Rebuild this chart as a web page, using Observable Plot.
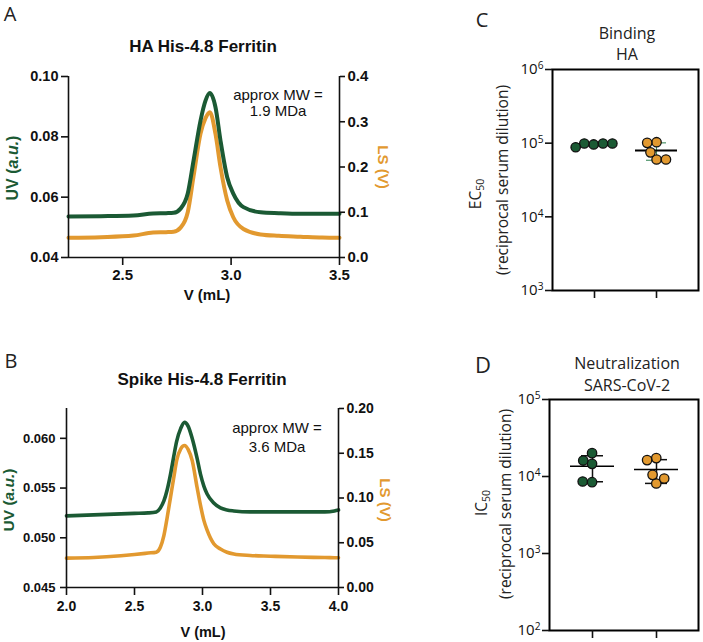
<!DOCTYPE html>
<html><head><meta charset="utf-8">
<script src="https://cdn.jsdelivr.net/npm/d3@7"></script>
<script src="https://cdn.jsdelivr.net/npm/@observablehq/plot@0.6"></script>
<style>
body{margin:0;background:#fff;}
#fig{position:relative;width:703px;height:642px;overflow:hidden;background:#fff;font-family:"Liberation Sans",Arial,sans-serif;color:#111;}
.abs{position:absolute;}
.lbl{position:absolute;white-space:nowrap;line-height:1.15;}
.os{font-family:"Open Sans","Noto Sans",sans-serif;font-weight:normal;color:#222;}
</style></head><body><div id="fig"></div>
<script>
// ---------- data ----------
const green = "#1b5a34", orange = "#e2992f";
const groups = ["Group 1", "Group 2"];

// Panel A: HA His-4.8 Ferritin (UV left axis, LS right axis)
const vA  = [2.25, 2.40, 2.55, 2.64, 2.70, 2.735, 2.767, 2.80, 2.827, 2.859, 2.882, 2.902, 2.928, 2.951, 2.982, 3.01, 3.057, 3.136, 3.22, 3.32, 3.42, 3.5];
const uvA = [0.0536, 0.0537, 0.0539, 0.0546, 0.0547, 0.0548, 0.0562, 0.0612, 0.0722, 0.0854, 0.0920, 0.0945, 0.0898, 0.0788, 0.0666, 0.0612, 0.0567, 0.0550, 0.0547, 0.0545, 0.0545, 0.0545];
const lsA = [0.0435, 0.045, 0.0486, 0.055, 0.056, 0.057, 0.066, 0.100, 0.180, 0.274, 0.308, 0.321, 0.273, 0.200, 0.126, 0.089, 0.063, 0.051, 0.048, 0.046, 0.044, 0.0435];
const xTicksA = [2.5, 3.0, 3.5];
const uvTicksA = [0.04, 0.06, 0.08, 0.10];
const lsTicksA = [0.0, 0.1, 0.2, 0.3, 0.4];

// Panel B: Spike His-4.8 Ferritin
const vB  = [2.0, 2.2, 2.4, 2.5, 2.6, 2.66, 2.69, 2.716, 2.74, 2.765, 2.79, 2.81, 2.84, 2.868, 2.895, 2.924, 2.96, 2.985, 3.01, 3.034, 3.083, 3.132, 3.18, 3.23, 3.35, 3.5, 3.7, 3.9, 3.97, 4.0];
const uvB = [0.0522, 0.0523, 0.0524, 0.05245, 0.0525, 0.0526, 0.0530, 0.0537, 0.0548, 0.0564, 0.0583, 0.0597, 0.0610, 0.0616, 0.0612, 0.0600, 0.0580, 0.0564, 0.0552, 0.0544, 0.0535, 0.0530, 0.0528, 0.0527, 0.0526, 0.0526, 0.0526, 0.0526, 0.0527, 0.0528];
const lsB = [0.0328, 0.0335, 0.0355, 0.0369, 0.0385, 0.0395, 0.045, 0.058, 0.078, 0.101, 0.124, 0.142, 0.155, 0.1587, 0.154, 0.142, 0.112, 0.092, 0.075, 0.064, 0.0488, 0.043, 0.0394, 0.0375, 0.0358, 0.035, 0.034, 0.0335, 0.0333, 0.0332];
const xTicksB = [2.0, 2.5, 3.0, 3.5, 4.0];
const uvTicksB = [0.045, 0.050, 0.055, 0.060];
const lsTicksB = [0.00, 0.05, 0.10, 0.15, 0.20];

// Panel C: Binding HA, EC50
const ec50Green  = [96000, 99000, 99000, 99000, 88000];
const ec50Orange = [60000, 103000, 75000, 101000, 60000];
const ticksC = [1e3, 1e4, 1e5, 1e6];

// Panel D: Neutralization SARS-CoV-2, IC50
const ic50Green  = [20100, 14600, 16100, 8440, 8610];
const ic50Orange = [8110, 17340, 10500, 16330, 9420];
const ticksD = [1e2, 1e3, 1e4, 1e5];

// ---------- helpers ----------
const fig = document.getElementById("fig");
function place(node, left, top) {
  const d = document.createElement("div");
  d.className = "abs"; d.style.left = left + "px"; d.style.top = top + "px";
  d.appendChild(node); fig.appendChild(d);
}
function label(html, x, y, style = {}, rot = 0, cls = "") {
  const d = document.createElement("div");
  d.className = "lbl " + cls; d.innerHTML = html;
  d.style.left = x + "px"; d.style.top = y + "px";
  Object.assign(d.style, style);
  d.style.transform = "translate(-50%,-50%)" + (rot ? ` rotate(${rot}deg)` : "");
  fig.appendChild(d);
}

function chromPanel(o) {
  const {V, uv, ls, xDom, uvDom, lsDom} = o;
  const toUV = d => uvDom[0] + (d - lsDom[0]) / (lsDom[1] - lsDom[0]) * (uvDom[1] - uvDom[0]);
  const fromUV = d => lsDom[0] + (d - uvDom[0]) / (uvDom[1] - uvDom[0]) * (lsDom[1] - lsDom[0]);
  const uvData = V.map((v, i) => ({v, y: uv[i]}));
  const lsData = V.map((v, i) => ({v, y: toUV(ls[i])}));
  const ax = {stroke: "#111", strokeWidth: 1.6};
  return Plot.plot({
    width: o.width, height: o.height,
    marginLeft: o.mL, marginRight: o.mR, marginTop: o.mT, marginBottom: o.mB,
    x: {domain: xDom}, y: {domain: uvDom},
    style: {fontFamily: "'Liberation Sans', Arial, sans-serif", fontSize: o.fs + "px", fontWeight: "bold", color: "#111", background: "transparent"},
    marks: [
      Plot.line(lsData, {x: "v", y: "y", stroke: orange, strokeWidth: o.lw, curve: "monotone-x"}),
      Plot.line(uvData, {x: "v", y: "y", stroke: green, strokeWidth: o.lw, curve: "monotone-x"}),
      Plot.ruleX(xDom, ax),
      Plot.ruleY([uvDom[0]], ax),
      Plot.axisX(o.xTicks, {tickFormat: d => d.toFixed(1), tickSize: o.xts, tickPadding: o.xtp, label: null, strokeWidth: 1.6, fontSize: o.xfs}),
      Plot.axisY(o.uvTicks, {tickFormat: d => d.toFixed(o.uvDig), tickSize: o.lts, tickPadding: o.ltp, label: null, strokeWidth: 1.6, fontSize: o.lfs}),
      Plot.axisY(o.lsTicks.map(toUV), {anchor: "right", tickFormat: d => fromUV(d).toFixed(o.lsDig), tickSize: o.rts, tickPadding: o.rtp, label: null, strokeWidth: 1.6, fontSize: o.rfs})
    ]
  });
}

function scatterPanel(o) {
  const xOpts = {type: "band", domain: groups, range: [o.mL, o.width - o.mR], padding: 0.32};
  const xs = Plot.scale({x: xOpts});
  const mid = (o.mL + o.width - o.mR) / 2;
  // Plot's materialized band scale returns the band centre from apply()
  const dxOf = g => xs.apply(g) - mid;
  const stats = [[groups[0], o.g], [groups[1], o.o]].map(([g, v]) => {
    const m = d3.mean(v), s = d3.deviation(v);
    return {g, mean: m, lo: m - s, hi: m + s};
  });
  const gData = o.g.map(v => ({g: groups[0], v}));
  const oData = o.o.map(v => ({g: groups[1], v}));
  const bar = {stroke: o.barColor, strokeWidth: o.barW};
  const dotStyle = {y: "v", r: 4.7, stroke: "#111", strokeWidth: 1.3};
  const svg = Plot.plot({
    width: o.width, height: o.height,
    marginLeft: o.mL, marginRight: o.mR, marginTop: o.mT, marginBottom: o.mB,
    x: xOpts, y: {type: "log", domain: o.yDom},
    style: {fontFamily: "'Open Sans', 'Noto Sans', sans-serif", fontSize: "15px", color: "#111", background: "transparent"},
    marks: [
      Plot.ruleX(stats, {x: "g", y1: "lo", y2: "hi", ...bar}),
      Plot.tickY(stats, {x: "g", y: "lo", insetLeft: 11, insetRight: 11, ...bar}),
      Plot.tickY(stats, {x: "g", y: "hi", insetLeft: 11, insetRight: 11, ...bar}),
      Plot.tickY(stats, {x: "g", y: "mean", stroke: "#000", strokeWidth: o.meanW}),
      Plot.dot(gData, Plot.dodgeX({anchor: "middle", padding: 0}, {...dotStyle, fill: green, dx: dxOf(groups[0])})),
      Plot.dot(oData, Plot.dodgeX({anchor: "middle", padding: 0}, {...dotStyle, fill: orange, dx: dxOf(groups[1])})),
      Plot.frame({stroke: "#000", strokeWidth: 2}),
      Plot.axisY(o.ticks, {tickFormat: d => "10^" + Math.round(Math.log10(d)), tickSize: 7, tickPadding: 2, label: null, strokeWidth: 1.6}),
      Plot.axisX({tickSize: 8, tickFormat: () => "", label: null, strokeWidth: 1.6})
    ]
  });
  d3.select(svg).selectAll("text").each(function () {
    const m = /^10\^(\d)$/.exec(this.textContent);
    if (m) {
      const s = d3.select(this);
      s.text("10");
      s.append("tspan").attr("dy", "-0.5em").attr("font-size", "0.68em").text(m[1]);
    }
  });
  return svg;
}

// ---------- panels ----------
place(chromPanel({V: vA, uv: uvA, ls: lsA, xDom: [2.25, 3.5], uvDom: [0.04, 0.10], lsDom: [0, 0.4],
  xTicks: xTicksA, uvTicks: uvTicksA, lsTicks: lsTicksA, uvDig: 2, lsDig: 1,
  width: 400, height: 300, mL: 68, mR: 61, mT: 76, mB: 43, fs: 15, lw: 4,
  xts: 8, xtp: 4, xfs: 15, lts: 7, ltp: 3, lfs: 14.5, rts: 5, rtp: 3, rfs: 15}), 0, 0);

place(chromPanel({V: vB, uv: uvB, ls: lsB, xDom: [2.0, 4.0], uvDom: [0.045, 0.063], lsDom: [0, 0.2],
  xTicks: xTicksB, uvTicks: uvTicksB, lsTicks: lsTicksB, uvDig: 3, lsDig: 2,
  width: 400, height: 300, mL: 66, mR: 62, mT: 78, mB: 43, fs: 13.5, lw: 3.6,
  xts: 8, xtp: 6, xfs: 14, lts: 6, ltp: 5, lfs: 13, rts: 5, rtp: 3, rfs: 14}), 0, 330);

place(scatterPanel({g: ec50Green, o: ec50Orange, yDom: [1e3, 1e6], ticks: ticksC,
  width: 273, height: 320, mL: 122, mR: 5, mT: 69, mB: 30, barColor: "#3f8a5c", barW: 1.1, meanW: 2}), 430, 0);

place(scatterPanel({g: ic50Green, o: ic50Orange, yDom: [1e2, 1e5], ticks: ticksD,
  width: 273, height: 312, mL: 119, mR: 5, mT: 69, mB: 12, barColor: "#111", barW: 1.5, meanW: 1.6}), 430, 330);

// ---------- text ----------
const bold = {fontWeight: "bold"};
label("A", 10, 13, {fontSize: "20px"}, 0, "os");
label("B", 11, 360, {fontSize: "20px"}, 0, "os");
label("C", 482, 19, {fontSize: "20px"}, 0, "os");
label("D", 483, 365, {fontSize: "22px"}, 0, "os");

label("HA His-4.8 Ferritin", 203, 47, {...bold, fontSize: "17px"});
label("Spike His-4.8 Ferritin", 202, 380, {...bold, fontSize: "17px"});

label("UV (<i>a.u.</i>)", 13, 168, {...bold, fontSize: "16px", color: green}, -90);
label("LS (V)", 383, 167, {...bold, fontSize: "15px", color: orange}, 90);
label("UV (<i>a.u.</i>)", 9, 500, {...bold, fontSize: "15.5px", color: green}, -90);
label("LS (V)", 385, 500, {...bold, fontSize: "15px", color: orange}, 90);

label("V (mL)", 207, 295, {...bold, fontSize: "15px"});
label("V (mL)", 203, 632, {...bold, fontSize: "14.5px"});

label("approx MW =", 278, 95, {fontSize: "15px"});
label("1.9 MDa", 278, 111, {fontSize: "15px"});
label("approx MW =", 277, 428, {fontSize: "15px"});
label("3.6 MDa", 277, 447, {fontSize: "15px"});

label("Binding", 627, 33, {fontSize: "16px"}, 0, "os");
label("HA", 627, 54, {fontSize: "16px"}, 0, "os");
label("Neutralization", 627, 363, {fontSize: "16px"}, 0, "os");
label("SARS-CoV-2", 627, 385, {fontSize: "16px"}, 0, "os");

const sub = s => `<span style="font-size:0.68em;position:relative;top:0.25em">${s}</span>`;
label("EC" + sub("50"), 476, 194, {fontSize: "15.5px"}, -90, "os");
label("(reciprocal serum dilution)", 503, 180, {fontSize: "15.5px"}, -90, "os");
label("IC" + sub("50"), 482, 503, {fontSize: "15.5px"}, -90, "os");
label("(reciprocal serum dilution)", 506, 504, {fontSize: "15.5px"}, -90, "os");
</script></body></html>
